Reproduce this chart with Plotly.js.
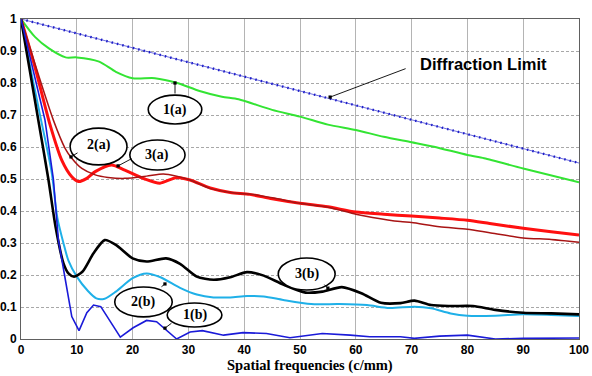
<!DOCTYPE html>
<html>
<head>
<meta charset="utf-8">
<script src="https://cdn.plot.ly/plotly-3.0.1.min.js"></script>
<style>html,body{margin:0;padding:0;background:#fff;}#chart{width:592px;height:376px;}</style>
</head>
<body>
<div id="chart"></div>
<script>
// Diffraction limit
const diffX = [0, 10, 20, 30, 40, 50, 60, 70, 80, 90, 100];
const diffY = [1, 0.955, 0.91, 0.865, 0.82, 0.775, 0.731, 0.687, 0.641, 0.596, 0.55];
// 1(a) green
const g1aX = [0, 2.5, 5, 8, 10, 14, 17, 20, 24, 28, 32, 36, 39, 45, 50, 55, 60, 65, 70, 74, 80, 83, 90, 100];
const g1aY = [1, 0.944, 0.908, 0.88, 0.88, 0.867, 0.835, 0.815, 0.815, 0.8, 0.775, 0.757, 0.749, 0.716, 0.695, 0.67, 0.653, 0.632, 0.615, 0.601, 0.575, 0.565, 0.533, 0.49];
// 3(a) red
const r3aX = [0, 2.5, 5.2, 7.3, 9.1, 10.3, 11.8, 13.3, 16.2, 18.6, 22.2, 24.9, 27.9, 30.3, 33.9, 37.5, 41, 45, 50, 55, 60, 65, 70, 75, 80, 84, 90, 95, 100];
const r3aY = [1, 0.85, 0.67, 0.559, 0.507, 0.492, 0.502, 0.523, 0.544, 0.528, 0.5, 0.487, 0.505, 0.497, 0.472, 0.458, 0.452, 0.438, 0.424, 0.413, 0.397, 0.39, 0.384, 0.378, 0.371, 0.361, 0.346, 0.335, 0.325];
// 2(a) brown
const b2aX = [0, 2.5, 5.8, 7.9, 9.1, 10.9, 13.3, 15.6, 18.6, 22.5, 25.5, 27.9, 30.3, 34, 38, 42, 46, 50, 55, 60, 63, 68, 70, 75, 80, 84, 90, 95, 100];
const b2aY = [1, 0.86, 0.684, 0.596, 0.565, 0.533, 0.513, 0.505, 0.502, 0.509, 0.516, 0.509, 0.497, 0.47, 0.457, 0.451, 0.438, 0.424, 0.412, 0.39, 0.38, 0.367, 0.364, 0.351, 0.343, 0.332, 0.316, 0.311, 0.302];
// 2(b) light blue
const c2bX = [0, 2, 3.6, 5.5, 6.5, 7.6, 8.5, 10, 12, 13.5, 15, 17, 20, 22.5, 25, 28.5, 31.5, 34.5, 37.5, 40.5, 43.5, 47, 52, 57, 62, 66, 70.5, 73.5, 77, 80, 85, 90, 95, 100];
const c2bY = [1, 0.82, 0.684, 0.52, 0.38, 0.3, 0.245, 0.195, 0.15, 0.127, 0.126, 0.148, 0.19, 0.205, 0.193, 0.16, 0.139, 0.13, 0.13, 0.134, 0.133, 0.122, 0.109, 0.109, 0.106, 0.097, 0.101, 0.096, 0.08, 0.073, 0.073, 0.077, 0.075, 0.072];
// 3(b) black
const k3bX = [0, 3.1, 4.9, 6.2, 7.6, 8.5, 9.5, 11, 13, 15, 17, 20, 22.5, 26, 28.5, 31.5, 34.5, 37.5, 40.5, 43.5, 47, 51, 54, 57.5, 61, 64.5, 68, 70.5, 73.5, 77, 81, 85, 90, 95, 100];
const k3bY = [1, 0.684, 0.5, 0.35, 0.237, 0.205, 0.195, 0.21, 0.268, 0.309, 0.294, 0.252, 0.242, 0.252, 0.235, 0.195, 0.185, 0.193, 0.209, 0.198, 0.17, 0.145, 0.148, 0.162, 0.143, 0.113, 0.112, 0.12, 0.106, 0.103, 0.103, 0.091, 0.082, 0.08, 0.077];
// 1(b) blue
const b1bX = [0, 4.3, 5.8, 6.7, 7.8, 9.1, 10.4, 11.8, 13, 14.3, 17.8, 20.1, 22.5, 24.3, 27.9, 30.3, 32.5, 36.3, 39.8, 44, 48.2, 54, 59, 62.5, 68, 70.5, 75, 80, 85, 90, 100];
const b1bY = [1, 0.684, 0.5, 0.31, 0.2, 0.07, 0.026, 0.082, 0.106, 0.101, 0.006, 0.035, 0.058, 0.054, 0.0, 0.022, 0.026, 0.012, 0.02, 0.017, 0.004, 0.017, 0.012, 0.007, 0.007, 0.002, 0.009, 0.012, 0.0, 0.002, 0.003];

const xTicks = [0, 10, 20, 30, 40, 50, 60, 70, 80, 90, 100];
const yTicks = [0, 0.1, 0.2, 0.3, 0.4, 0.5, 0.6, 0.7, 0.8, 0.9, 1];

const sp = {shape: 'spline', smoothing: 0.7};
const traces = [
  {x: diffX, y: diffY, mode: 'lines', line: {color: '#4a4ad6', width: 0.8}},
  {x: diffX, y: diffY, mode: 'lines', line: {color: '#1e1ec8', width: 2.4, dash: '1.5px,4px'}},
  {x: g1aX, y: g1aY, mode: 'lines', line: Object.assign({color: '#33e433', width: 2}, sp)},
  {x: r3aX, y: r3aY, mode: 'lines', line: Object.assign({color: '#ff1010', width: 3}, sp)},
  {x: b2aX, y: b2aY, mode: 'lines', line: Object.assign({color: '#a81414', width: 1.5}, sp)},
  {x: c2bX, y: c2bY, mode: 'lines', line: Object.assign({color: '#1fb0e8', width: 2}, sp)},
  {x: k3bX, y: k3bY, mode: 'lines', line: Object.assign({color: '#000000', width: 2.6}, sp)},
  {x: b1bX, y: b1bY, mode: 'lines', line: {color: '#1a1ad8', width: 1.6}}
];

const lblFont = {family: 'Liberation Serif, Times New Roman, serif', size: 14, color: '#000'};
function ell(x0, x1, y0, y1) {
  return {type: 'circle', xref: 'x', yref: 'y', x0: x0, x1: x1, y0: y0, y1: y1,
          line: {color: '#000', width: 1.6}, fillcolor: 'rgba(255,255,255,1)', layer: 'above'};
}
function lbl(t, x, y) {
  return {text: '<b>' + t + '</b>', x: x, y: y, xref: 'x', yref: 'y', showarrow: false, font: lblFont,
          xanchor: 'center', yanchor: 'middle'};
}
function arr(x, y, ax, ay) {
  return {text: '', x: x, y: y, xref: 'x', yref: 'y', ax: ax, ay: ay, showarrow: true,
          arrowhead: 7, arrowsize: 0.9, arrowwidth: 0.9, arrowcolor: '#000', standoff: 0};
}

const plotL = 21, plotT = 19, plotW = 558, plotH = 320;
function px2paperX(p) { return (p - plotL) / plotW; }
function px2paperY(p) { return 1 - (p - plotT) / plotH; }

const layout = {
  width: 592, height: 376, autosize: false,
  margin: {l: 21, r: 13, t: 19, b: 37, pad: 0},
  paper_bgcolor: '#fff', plot_bgcolor: '#fff',
  showlegend: false,
  xaxis: {range: [0, 100], tickvals: xTicks, ticks: '', showline: true, mirror: true,
          linecolor: '#606060', linewidth: 1, showgrid: true, gridcolor: '#b4b4b4', griddash: 'solid', gridwidth: 1,
          zeroline: false, tickfont: {family: 'Liberation Sans, Arial, sans-serif', size: 12, color: '#000', weight: 'bold'}},
  yaxis: {range: [0, 1], tickvals: yTicks, ticks: '', showline: true, mirror: true,
          linecolor: '#606060', linewidth: 1, showgrid: true, gridcolor: '#a8a8a8', griddash: '3px,2px', gridwidth: 1,
          zeroline: false, ticklabelstandoff: 1,
          tickfont: {family: 'Liberation Sans, Arial, sans-serif', size: 12, color: '#000', weight: 'bold'}},
  shapes: [
    ell(22.8, 32.4, 0.672, 0.762),
    ell(8.8, 19.0, 0.544, 0.659),
    ell(19.5, 29.4, 0.528, 0.622),
    ell(16.8, 27.1, 0.069, 0.1625),
    ell(26.2, 36.0, 0.0375, 0.1125),
    ell(46.1, 56.3, 0.153, 0.253)
  ],
  annotations: [
    lbl('1(a)', 27.6, 0.717),
    lbl('2(a)', 13.9, 0.606),
    lbl('3(a)', 24.45, 0.575),
    lbl('2(b)', 21.95, 0.116),
    lbl('1(b)', 31.1, 0.075),
    lbl('3(b)', 51.2, 0.203),
    arr(27.6, 0.8, 0, 12),
    arr(8.96, 0.569, 8, -5),
    arr(17.4, 0.541, 15, -8),
    arr(25.8, 0.172, -5, 4),
    arr(25.8, 0.034, 8, -6),
    arr(55.0, 0.159, -5, -5),
    arr(55.4, 0.756, 77, -29),
    {text: '<b>Diffraction Limit</b>', x: px2paperX(483), y: px2paperY(64), xref: 'paper', yref: 'paper',
     xanchor: 'center', yanchor: 'middle', showarrow: false,
     font: {family: 'Liberation Sans, Arial, sans-serif', size: 16.5, color: '#000'}},
    {text: '<b>Spatial frequencies (c/mm)</b>', x: px2paperX(310), y: px2paperY(365), xref: 'paper', yref: 'paper',
     xanchor: 'center', yanchor: 'middle', showarrow: false,
     font: {family: 'Liberation Serif, Times New Roman, serif', size: 14.5, color: '#000'}}
  ]
};

Plotly.newPlot('chart', traces, layout, {staticPlot: true, displayModeBar: false});
</script>
</body>
</html>
